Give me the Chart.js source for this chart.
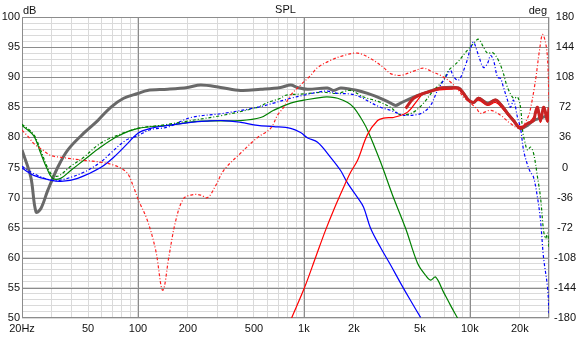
<!DOCTYPE html>
<html>
<head>
<meta charset="utf-8">
<script src="https://cdn.jsdelivr.net/npm/chart.js@4/dist/chart.umd.min.js"></script>
<style>
  html, body { margin: 0; padding: 0; background: #fff; }
  canvas { display: block; }
</style>
</head>
<body>
<canvas id="spl" width="584" height="337"></canvas>
<script>
// tick labels
const xTickValues = [20, 50, 100, 200, 500, 1000, 2000, 5000, 10000, 20000];
const xTickLabels = ['20Hz', '50', '100', '200', '500', '1k', '2k', '5k', '10k', '20k'];

// total response (thick gray)
const totalFreq = [20, 22.6, 24.3, 26, 28.6, 32.8, 37.7, 47.1, 57.2, 68.5, 82, 100, 114, 151, 199, 239, 315, 416, 549, 724, 832, 916, 1053, 1389, 1510, 1664, 1911, 2106, 2419, 2897, 3330, 3568, 3824, 4580, 5262, 5800, 6659, 8549, 9162, 9821, 10527, 11284, 12783, 14281, 15306, 16867, 18336, 20210, 22270, 24200, 26670, 30000];
const totalDb = [77.9, 73.4, 67.6, 68.2, 71.2, 75.0, 77.9, 80.7, 82.8, 85.0, 86.5, 87.3, 87.8, 88.0, 88.3, 88.7, 88.3, 87.8, 88.0, 88.3, 88.7, 88.3, 88.0, 88.2, 87.8, 88.2, 88.0, 87.8, 87.3, 86.5, 85.7, 85.3, 85.7, 86.7, 87.3, 87.7, 88.2, 88.2, 87.3, 86.2, 85.8, 86.5, 85.7, 86.2, 85.5, 84.0, 82.8, 81.5, 82.0, 82.8, 83.2, 83.7];

// thick dark red
const sumFreq = [4100, 4580, 5262, 6045, 6659, 7649, 8549, 9162, 9821, 10527, 11284, 12092, 12783, 14281, 15306, 16867, 18336, 20210, 22270, 24200, 24880, 25580, 26670, 27800, 28580, 29390, 30000];
const sumDb = [84.8, 86.5, 87.3, 87.8, 88.2, 88.2, 88.2, 87.3, 86.2, 85.8, 86.5, 86.0, 85.5, 86.2, 85.5, 84.0, 82.8, 81.5, 82.3, 82.8, 84.2, 85.0, 82.8, 85.0, 84.2, 82.8, 85.0];

// red solid
const redFreq = [843, 1010, 1177, 1351, 1510, 1735, 1911, 2106, 2419, 2780, 3021, 3330, 3470, 4215, 4841, 5262, 6045, 7649, 8549, 9421, 10097, 11284, 12783, 14281, 15737, 17586, 20210, 23216, 25580, 26670, 27800, 29390, 30000];
const redDb = [50.0, 55.1, 60.1, 64.6, 67.9, 71.7, 74.2, 76.2, 80.5, 82.8, 83.2, 83.3, 83.3, 84.2, 86.2, 87.3, 87.8, 88.0, 88.0, 86.7, 85.8, 86.2, 85.3, 85.8, 84.8, 83.2, 81.8, 82.7, 84.2, 82.5, 84.5, 82.5, 84.5];

// green solid
const greenFreq = [20, 23.5, 25.9, 28.2, 30.6, 34.2, 39.3, 47.1, 59.6, 75.5, 100, 151, 239, 416, 549, 657, 832, 1053, 1314, 1448, 1596, 1834, 1993, 2196, 2419, 2897, 3422, 4100, 4841, 5409, 5799, 6216, 6942, 7649, 8431];
const greenDb = [82.0, 80.3, 77.4, 74.9, 73.2, 73.2, 74.5, 76.2, 78.4, 80.2, 81.5, 82.0, 82.7, 82.8, 83.3, 84.5, 85.7, 86.3, 86.7, 86.7, 86.5, 85.8, 85.0, 83.3, 81.2, 75.9, 70.4, 64.9, 59.1, 57.1, 56.3, 56.8, 54.3, 52.1, 50.0];

// blue solid
const blueFreq = [20, 23.5, 29.8, 34.2, 43.3, 59.6, 71.4, 86.7, 100, 119, 151, 208, 256, 328, 416, 526, 657, 832, 955, 1053, 1209, 1448, 1664, 1834, 2106, 2289, 2522, 2897, 3330, 3824, 4394, 5047];
const blueDb = [74.9, 73.7, 72.9, 72.7, 73.2, 75.0, 76.7, 79.0, 80.7, 81.5, 82.0, 82.5, 82.7, 82.8, 82.5, 82.0, 81.8, 81.5, 80.8, 79.9, 79.2, 76.7, 74.5, 72.4, 70.0, 68.4, 64.9, 61.7, 58.8, 55.8, 52.9, 50.1];

// red dash-dot
const redDashFreq = [20, 22, 23.5, 26.7, 29.8, 34.2, 47.1, 59.6, 71.4, 78.7, 86.7, 94.2, 101, 114, 128, 141, 154, 169, 189, 217, 239, 263, 294, 328, 416, 526, 630, 694, 755, 832, 955, 1098, 1209, 1448, 1735, 2106, 2522, 3021, 3330, 3824, 4580, 5262, 6045, 6659, 7649, 8549, 9162, 10097, 10974, 11600, 13326, 15306, 17586, 20210, 22270, 23216, 24880, 26300, 27420, 28580, 29390, 30000];
const redDashDb = [81.2, 80.0, 79.0, 77.9, 77.0, 76.7, 76.2, 75.9, 75.4, 74.9, 74.0, 71.7, 69.5, 66.2, 61.2, 54.6, 60.4, 66.2, 69.9, 70.5, 70.4, 70.0, 72.0, 74.5, 77.4, 80.0, 81.5, 83.7, 85.0, 87.0, 88.7, 90.3, 91.6, 92.8, 93.6, 94.0, 93.1, 91.6, 90.6, 90.3, 91.0, 91.5, 90.8, 90.3, 89.2, 87.8, 86.7, 85.7, 84.8, 84.0, 84.5, 83.7, 82.3, 81.5, 83.2, 84.8, 89.5, 94.5, 97.1, 95.8, 93.1, 86.0];

// green dash-dot
const greenDashFreq = [20, 23.5, 25.9, 28.6, 30.6, 33.3, 39.3, 47.1, 57.2, 68.5, 100, 137, 208, 328, 526, 604, 724, 776, 955, 1053, 1314, 1596, 1911, 2289, 2780, 3330, 3669, 3987, 4580, 5262, 6045, 6942, 7440, 8431, 9685, 10527, 11284, 12092, 12783, 13700, 14683, 15737, 16867, 18336, 19384, 20210, 20780, 21360, 22270, 23216, 24200, 25580, 26670, 27800, 28580, 29390, 30000];
const greenDashDb = [82.2, 80.5, 77.9, 74.9, 73.7, 73.6, 75.2, 76.7, 78.7, 79.9, 81.5, 82.0, 82.8, 83.7, 85.0, 85.8, 86.5, 87.0, 87.2, 87.3, 87.5, 87.3, 87.8, 86.7, 86.0, 85.0, 84.0, 83.7, 84.2, 85.7, 87.8, 89.5, 91.1, 92.5, 94.5, 95.6, 96.3, 95.0, 94.0, 94.1, 93.1, 91.1, 88.3, 86.5, 86.7, 85.0, 81.2, 79.5, 77.9, 78.4, 77.4, 73.4, 70.0, 64.6, 63.2, 64.1, 61.7];

// blue dash-dot
const blueDashFreq = [20, 23.5, 29.8, 34.2, 47.1, 59.6, 68.5, 84.3, 100, 119, 151, 208, 328, 526, 657, 832, 996, 1209, 1389, 1596, 1911, 2196, 2522, 2897, 3330, 3987, 4841, 5262, 5799, 6389, 7137, 7649, 7974, 8549, 9421, 10097, 10527, 11284, 12092, 12783, 13326, 13890, 14683, 15306, 15957, 16867, 17586, 18336, 19384, 20210, 21070, 22270, 23216, 24200, 25580, 26670, 27800, 29390, 30000];
const blueDashDb = [75.2, 74.0, 72.9, 72.9, 74.2, 75.9, 77.4, 79.5, 80.3, 81.3, 81.7, 83.3, 84.0, 85.0, 85.7, 86.5, 87.0, 87.5, 87.7, 87.3, 87.2, 86.7, 85.8, 85.0, 84.5, 83.7, 83.8, 84.2, 85.3, 87.8, 90.0, 91.1, 90.1, 89.5, 92.0, 94.8, 95.8, 93.6, 91.6, 92.3, 93.6, 92.8, 90.0, 89.8, 88.3, 86.2, 85.0, 86.2, 83.3, 81.5, 77.9, 75.4, 74.2, 73.4, 70.0, 66.2, 60.1, 55.1, 50.8];

const majorGrid = '#8c8c8c';
const minorGrid = '#dadada';
const textColor = '#111';
const font = { family: 'Arial, "Liberation Sans", sans-serif', size: 11 };
const majorFreqs = [100, 1000, 10000];

function pts(freq, db) {
  return freq.map((f, i) => ({ x: f, y: db[i] }));
}

const gridValues = [];
[10, 100, 1000, 10000].forEach(d => {
  for (let m = 1; m <= 9; m++) {
    const v = m * d;
    if (v >= 20 && v <= 30000) gridValues.push(v);
  }
});

function line(label, freq, db, color, width, dash, order) {
  return {
    label,
    data: pts(freq, db),
    borderColor: color,
    borderWidth: width,
    borderDash: dash || [],
    pointRadius: 0,
    tension: 0.35,
    fill: false,
    order
  };
}

// major grid lines and frame drawn over the light minor grid
const frame = {
  id: 'frame',
  beforeDatasetsDraw(chart) {
    const { ctx, chartArea: a, scales } = chart;
    ctx.save();
    ctx.strokeStyle = majorGrid;
    ctx.lineWidth = 1;
    ctx.beginPath();
    majorFreqs.forEach(f => {
      const px = Math.round(scales.x.getPixelForValue(f)) + 0.5;
      ctx.moveTo(px, a.top);
      ctx.lineTo(px, a.bottom);
    });
    for (let v = 55; v < 100; v += 5) {
      const py = Math.round(scales.y.getPixelForValue(v)) + 0.5;
      ctx.moveTo(a.left, py);
      ctx.lineTo(a.right, py);
    }
    ctx.stroke();
    ctx.strokeRect(Math.round(a.left) + 0.5, Math.round(a.top) + 0.5,
      Math.round(a.width) - 1, Math.round(a.height) - 1);
    ctx.restore();
  },
  afterDraw(chart) {
    const { ctx, chartArea: a } = chart;
    ctx.save();
    ctx.fillStyle = textColor;
    ctx.font = '11px Arial, "Liberation Sans", sans-serif';
    ctx.textBaseline = 'alphabetic';
    ctx.textAlign = 'center';
    ctx.fillText('SPL', (a.left + a.right) / 2, 13);
    ctx.textAlign = 'left';
    ctx.fillText('dB', a.left + 1, 14);
    ctx.textAlign = 'right';
    ctx.fillText('deg', a.right - 2, 14);
    ctx.restore();
  }
};

const dashDot = [3, 2, 1, 2];

new Chart(document.getElementById('spl'), {
  type: 'line',
  data: {
    datasets: [
      line('SPL sum', sumFreq, sumDb, 'rgb(200,35,35)', 3, null, 0),
      line('Tweeter', redFreq, redDb, '#ff0000', 1.2, null, 1),
      line('Red phase', redDashFreq, redDashDb, '#ff2020', 1.2, dashDot, 2),
      line('Blue phase', blueDashFreq, blueDashDb, '#0000ff', 1.2, dashDot, 3),
      line('Green phase', greenDashFreq, greenDashDb, '#008000', 1.2, dashDot, 4),
      line('Blue', blueFreq, blueDb, '#0000ff', 1.2, null, 5),
      line('Green', greenFreq, greenDb, '#008000', 1.2, null, 6),
      line('Total', totalFreq, totalDb, '#696969', 3, null, 7)
    ]
  },
  options: {
    responsive: false,
    animation: false,
    devicePixelRatio: 1,
    layout: { padding: { top: 17, left: 0, right: 0, bottom: 0 } },
    plugins: { legend: { display: false }, tooltip: { enabled: false }, title: { display: false } },
    scales: {
      x: {
        type: 'logarithmic',
        min: 20,
        max: 30000,
        afterBuildTicks: s => { s.ticks = gridValues.map(v => ({ value: v })); },
        afterFit: s => { s.height = 19; },
        border: { display: false },
        grid: { drawTicks: false, color: minorGrid },
        ticks: {
          autoSkip: false,
          maxRotation: 0,
          padding: 4,
          color: textColor,
          font,
          callback: v => {
            const i = xTickValues.indexOf(v);
            return i >= 0 ? xTickLabels[i] : '';
          }
        }
      },
      y: {
        position: 'left',
        min: 50,
        max: 100,
        afterFit: s => { s.width = 22; },
        border: { display: false },
        grid: { drawTicks: false, color: minorGrid },
        ticks: {
          stepSize: 1,
          autoSkip: false,
          padding: 2,
          color: textColor,
          font,
          callback: v => (v % 5 === 0 ? String(v) : '')
        }
      },
      y2: {
        position: 'right',
        min: -180,
        max: 180,
        afterFit: s => { s.width = 35; },
        border: { display: false },
        grid: { drawOnChartArea: false, drawTicks: false },
        ticks: {
          stepSize: 36,
          autoSkip: false,
          padding: 5,
          crossAlign: 'center',
          color: textColor,
          font
        }
      }
    }
  },
  plugins: [frame]
});
</script>
</body>
</html>
